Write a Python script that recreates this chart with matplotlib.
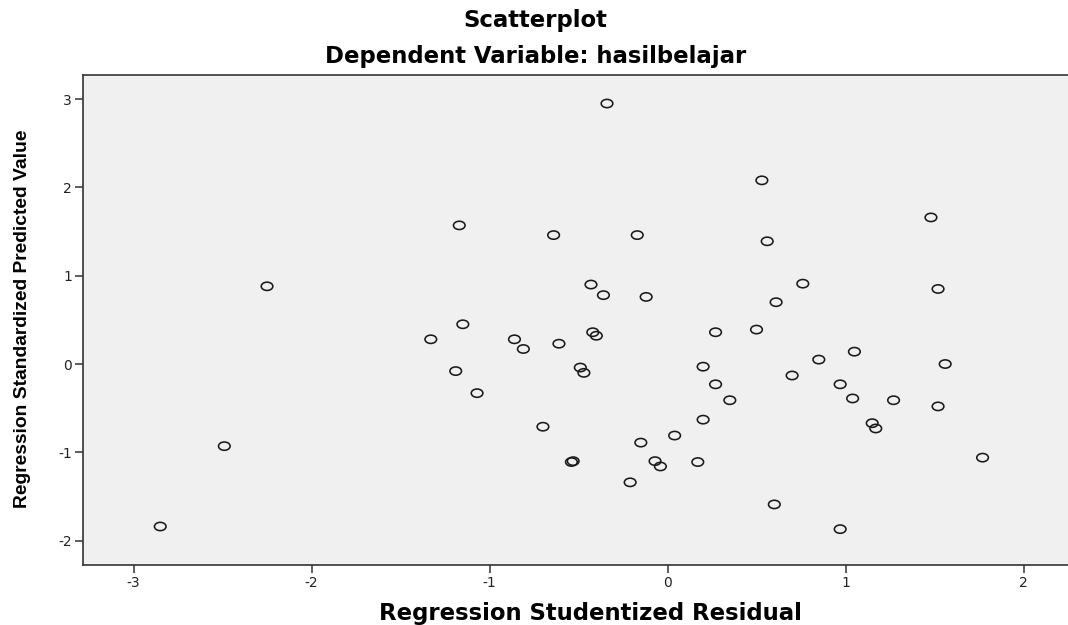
import numpy as np
import matplotlib
matplotlib.use("Agg")
import matplotlib.pyplot as plt
from matplotlib.path import Path
from matplotlib.transforms import Affine2D

# residual (x) vs predicted value (y)
resid = [-1.17, -2.25, -1.15, -1.33, -0.86, -0.81, -1.19, -1.07, -0.70, -2.49, -2.85,
         -0.34, 0.53, 1.48, -0.64, -0.17, 0.56, -0.43, -0.36, -0.12, 0.76, 1.52,
         0.61, -0.42, -0.40, -0.61, 0.27, 0.50, -0.49, -0.47, 0.20, 0.27, 0.35,
         0.70, 0.85, 1.05, 0.97, 1.04, 1.27, 1.52, 1.56, 1.15, 1.17, 1.77, 0.20,
         0.04, -0.15, -0.53, -0.54, -0.07, -0.04, 0.17, -0.21, 0.60, 0.97]
pred = [1.57, 0.88, 0.45, 0.28, 0.28, 0.17, -0.08, -0.33, -0.71, -0.93, -1.84,
        2.95, 2.08, 1.66, 1.46, 1.46, 1.39, 0.90, 0.78, 0.76, 0.91, 0.85,
        0.70, 0.36, 0.32, 0.23, 0.36, 0.39, -0.04, -0.10, -0.03, -0.23, -0.41,
        -0.13, 0.05, 0.14, -0.23, -0.39, -0.41, -0.48, 0.00, -0.67, -0.73, -1.06, -0.63,
        -0.81, -0.89, -1.10, -1.11, -1.10, -1.16, -1.11, -1.34, -1.59, -1.87]

xticks = [-3, -2, -1, 0, 1, 2]
yticks = [-2, -1, 0, 1, 2, 3]

W, H = 1068, 625
fig = plt.figure(figsize=(W / 100, H / 100), dpi=100)
fig.patch.set_facecolor("white")
ax = fig.add_axes([83 / W, 60 / H, 1 - 83 / W, 490 / H])
ax.set_facecolor("#f0f0f0")

# slightly flattened circle like the original
ell = Path.unit_circle().transformed(Affine2D().scale(1.4, 1.0))
ax.scatter(resid, pred, marker=ell, s=70, facecolors="none",
           edgecolors="#1a1a1a", linewidths=1.15, zorder=3)

ax.set_xlim(-3.284, 2.25)
ax.set_ylim(-2.276, 3.273)
ax.set_xticks(xticks)
ax.set_yticks(yticks)
ax.set_xticklabels([str(t) for t in xticks])
ax.set_yticklabels([str(t) for t in yticks])
ax.tick_params(direction="out", length=6, width=1.1, color="#333333",
               labelsize=10, labelcolor="#222222", pad=2)

for s in ["left", "bottom", "top"]:
    ax.spines[s].set_color("#333333")
    ax.spines[s].set_linewidth(1.2)
ax.spines["right"].set_visible(False)

fig.text(535 / W, 1 - 27 / H, "Scatterplot", ha="center", va="baseline",
         fontsize=16.4, fontweight="bold")
fig.text(536 / W, 1 - 63 / H, "Dependent Variable: hasilbelajar", ha="center",
         va="baseline", fontsize=16.4, fontweight="bold")
fig.text(590 / W, 1 - 620 / H, "Regression Studentized Residual", ha="center",
         va="baseline", fontsize=16.4, fontweight="bold")
fig.text(23 / W, 1 - 319 / H, "Regression Standardized Predicted Value",
         ha="center", va="center", rotation=90, fontsize=13.9,
         fontweight="bold", family="Liberation Sans")

fig.savefig("out.png", dpi=100)
